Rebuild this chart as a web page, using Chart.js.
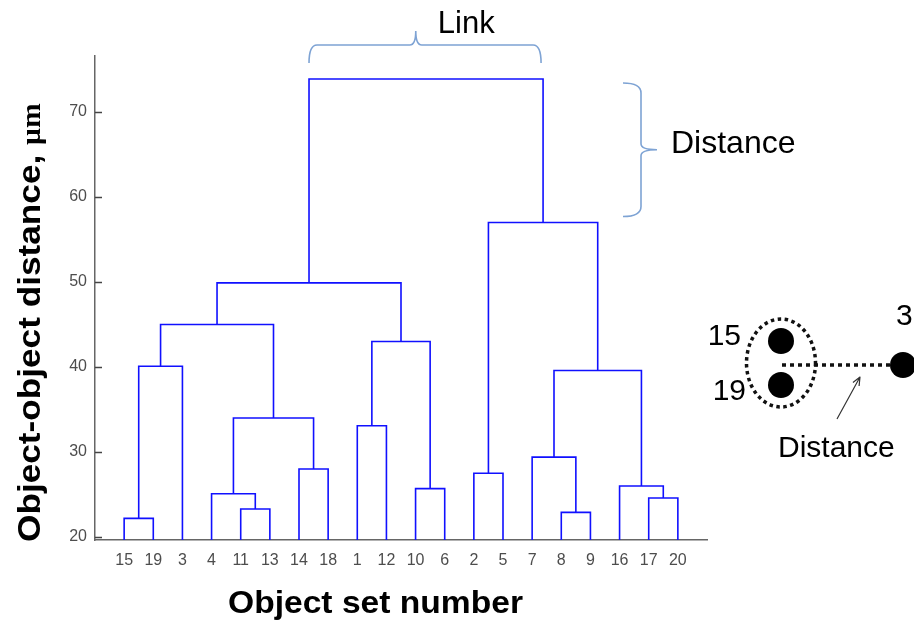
<!DOCTYPE html>
<html>
<head>
<meta charset="utf-8">
<script src="https://cdn.jsdelivr.net/npm/chart.js@4.4.1/dist/chart.umd.min.js"></script>
<style>
  html, body { margin: 0; padding: 0; background: #fff; }
  canvas { display: block; }
</style>
</head>
<body>
<canvas id="dendrogram" width="914" height="624"></canvas>
<script>
// leaves in the order they sit along the x axis
const leafOrder = [15, 19, 3, 4, 11, 13, 14, 18, 1, 12, 10, 6, 2, 5, 7, 8, 9, 16, 17, 20];

// linkage rows: merge k creates cluster 21 + k from linkLeft[k] and linkRight[k]
const linkLeft   = [15, 8, 11, 17, 4, 10, 16, 2, 14, 7, 1, 25, 30, 21, 31, 34, 36, 28, 37];
const linkRight  = [19, 9, 13, 20, 23, 6, 24, 5, 18, 22, 12, 29, 27, 3, 26, 32, 35, 33, 38];
const linkHeight = [22.2, 22.9, 23.3, 24.6, 25.1, 25.7, 26.0, 27.5, 28.0, 29.4,
                    33.1, 34.0, 39.6, 40.1, 43.0, 45.0, 49.9, 57.0, 73.9];

const yTicks = [20, 30, 40, 50, 60, 70];
const yMin = 19.65;
const yMax = 76.6;

const xTitle = 'Object set number';
const yTitle = 'Object-object distance,';
const yUnit = 'μm';

const FONT = '"Liberation Sans", Arial, sans-serif';
const SERIF = '"Liberation Serif", "Times New Roman", serif';
const LINE_BLUE = '#1010ff';
const BRACE_BLUE = '#7ea3d4';

// x position (leaf slot) and height of every node
const nObj = leafOrder.length;
const nodeX = {};
const nodeY = {};
leafOrder.forEach((obj, i) => {
  nodeX[obj] = i + 1;
  nodeY[obj] = yMin;
});

const datasets = linkHeight.map((h, k) => {
  const a = linkLeft[k];
  const b = linkRight[k];
  const id = nObj + 1 + k;
  nodeX[id] = (nodeX[a] + nodeX[b]) / 2;
  nodeY[id] = h;
  return {
    data: [
      { x: nodeX[a], y: nodeY[a] },
      { x: nodeX[a], y: h },
      { x: nodeX[b], y: h },
      { x: nodeX[b], y: nodeY[b] }
    ],
    showLine: true,
    borderColor: LINE_BLUE,
    borderWidth: 1.6,
    pointRadius: 0,
    fill: false,
    tension: 0
  };
});

// MATLAB style ticks pointing into the plot
const innerTicks = {
  id: 'innerTicks',
  afterDraw(chart) {
    const { ctx, chartArea, scales: { y } } = chart;
    ctx.save();
    ctx.strokeStyle = '#444';
    ctx.lineWidth = 1.5;
    yTicks.forEach(v => {
      const py = Math.round(y.getPixelForValue(v)) + 0.5;
      ctx.beginPath();
      ctx.moveTo(chartArea.left, py);
      ctx.lineTo(chartArea.left + 7, py);
      ctx.stroke();
    });
    ctx.restore();
  }
};

// axis titles, with the unit set in a serif face
const axisTitles = {
  id: 'axisTitles',
  afterDraw(chart) {
    const { ctx } = chart;
    ctx.save();
    ctx.fillStyle = '#000';
    ctx.textBaseline = 'alphabetic';
    ctx.textAlign = 'left';

    ctx.save();
    ctx.translate(228, 613);
    ctx.scale(1.05, 1);
    ctx.font = 'bold 32px ' + FONT;
    ctx.fillText(xTitle, 0, 0);
    ctx.restore();

    ctx.save();
    ctx.translate(40, 542);
    ctx.rotate(-Math.PI / 2);
    ctx.scale(1.1, 1);
    ctx.font = 'bold 32px ' + FONT;
    ctx.fillText(yTitle, 0, 0);
    const w = ctx.measureText(yTitle + ' ').width;
    ctx.font = 'bold 27px ' + SERIF;
    ctx.fillText(yUnit, w, 0);
    ctx.restore();

    ctx.restore();
  }
};

// explanatory braces and the small cluster sketch on the right
const notes = {
  id: 'notes',
  afterDraw(chart) {
    const { ctx, scales: { x, y } } = chart;
    const top = linkHeight.length - 1;
    const x1 = x.getPixelForValue(nodeX[linkLeft[top]]);
    const x2 = x.getPixelForValue(nodeX[linkRight[top]]) - 2;
    const yTop = y.getPixelForValue(linkHeight[top]);
    const ySecond = y.getPixelForValue(linkHeight[top - 1]);

    ctx.save();
    ctx.strokeStyle = BRACE_BLUE;
    ctx.lineWidth = 1.6;
    ctx.lineJoin = 'round';

    // horizontal brace over the top link
    const mid = x1 + 0.46 * (x2 - x1);
    const hy = yTop - 34;
    ctx.beginPath();
    ctx.moveTo(x1, yTop - 16);
    ctx.quadraticCurveTo(x1, hy, x1 + 8, hy);
    ctx.lineTo(mid - 6, hy);
    ctx.quadraticCurveTo(mid, hy, mid, hy - 14);
    ctx.moveTo(mid, hy - 14);
    ctx.quadraticCurveTo(mid, hy, mid + 6, hy);
    ctx.lineTo(x2 - 8, hy);
    ctx.quadraticCurveTo(x2, hy, x2, yTop - 16);
    ctx.stroke();

    // vertical brace between the two highest links
    const bx = 641;
    const b1 = yTop + 4;
    const b2 = ySecond - 6;
    const bm = (b1 + b2) / 2;
    ctx.beginPath();
    ctx.moveTo(bx - 18, b1);
    ctx.quadraticCurveTo(bx, b1, bx, b1 + 10);
    ctx.lineTo(bx, bm - 6);
    ctx.quadraticCurveTo(bx, bm, bx + 16, bm);
    ctx.moveTo(bx + 16, bm);
    ctx.quadraticCurveTo(bx, bm, bx, bm + 6);
    ctx.lineTo(bx, b2 - 10);
    ctx.quadraticCurveTo(bx, b2, bx - 18, b2);
    ctx.stroke();

    ctx.fillStyle = '#000';
    ctx.font = '31px ' + FONT;
    ctx.textBaseline = 'alphabetic';
    ctx.textAlign = 'left';
    ctx.fillText('Link', mid + 22, yTop - 46);
    ctx.font = '32px ' + FONT;
    ctx.fillText('Distance', 671, 153);

    // sketch: two merged objects and their distance to a third one
    ctx.strokeStyle = '#111';
    ctx.lineWidth = 3.5;
    ctx.setLineDash([3.5, 3.5]);
    ctx.beginPath();
    ctx.ellipse(781, 363, 34.5, 44, 0, 0, Math.PI * 2);
    ctx.stroke();
    ctx.setLineDash([4, 4]);
    ctx.beginPath();
    ctx.moveTo(782, 365);
    ctx.lineTo(890, 365);
    ctx.stroke();
    ctx.setLineDash([]);

    ctx.fillStyle = '#000';
    [[781, 341], [781, 385], [903, 365]].forEach(([cx, cy]) => {
      ctx.beginPath();
      ctx.arc(cx, cy, 13, 0, Math.PI * 2);
      ctx.fill();
    });

    // arrow pointing at the dotted distance line
    ctx.strokeStyle = '#333';
    ctx.lineWidth = 1.2;
    const ax0 = 837, ay0 = 419, ax1 = 860, ay1 = 377;
    const ang = Math.atan2(ay1 - ay0, ax1 - ax0);
    ctx.beginPath();
    ctx.moveTo(ax0, ay0);
    ctx.lineTo(ax1, ay1);
    ctx.moveTo(ax1 - 9 * Math.cos(ang - 0.4), ay1 - 9 * Math.sin(ang - 0.4));
    ctx.lineTo(ax1, ay1);
    ctx.lineTo(ax1 - 9 * Math.cos(ang + 0.4), ay1 - 9 * Math.sin(ang + 0.4));
    ctx.stroke();

    ctx.font = '30px ' + FONT;
    ctx.textAlign = 'right';
    ctx.fillText('15', 741, 345);
    ctx.fillText('19', 746, 400);
    ctx.textAlign = 'left';
    ctx.fillText('3', 896, 325);
    ctx.fillText('Distance', 778, 457);
    ctx.restore();
  }
};

new Chart(document.getElementById('dendrogram'), {
  type: 'scatter',
  data: { datasets },
  options: {
    responsive: false,
    animation: false,
    layout: { padding: { left: 0, right: 207, top: 56, bottom: 0 } },
    plugins: {
      legend: { display: false },
      tooltip: { enabled: false }
    },
    scales: {
      x: {
        type: 'linear',
        min: 0,
        max: nObj + 1,
        afterBuildTicks: s => { s.ticks = leafOrder.map((_, i) => ({ value: i + 1 })); },
        afterFit: s => { s.height = 84; },
        ticks: {
          autoSkip: false,
          maxRotation: 0,
          padding: 11,
          color: '#4d4d4d',
          font: { family: FONT, size: 16 },
          callback: v => String(leafOrder[v - 1])
        },
        grid: { display: false, drawTicks: false },
        border: { color: '#666', width: 1.5 }
      },
      y: {
        type: 'linear',
        min: yMin,
        max: yMax,
        afterBuildTicks: s => { s.ticks = yTicks.map(v => ({ value: v })); },
        afterFit: s => { s.width = 95; },
        ticks: {
          padding: 8,
          color: '#4d4d4d',
          font: { family: FONT, size: 16 }
        },
        grid: { display: false, drawTicks: false },
        border: { color: '#666', width: 1.5 }
      }
    }
  },
  plugins: [innerTicks, axisTitles, notes]
});
</script>
</body>
</html>
